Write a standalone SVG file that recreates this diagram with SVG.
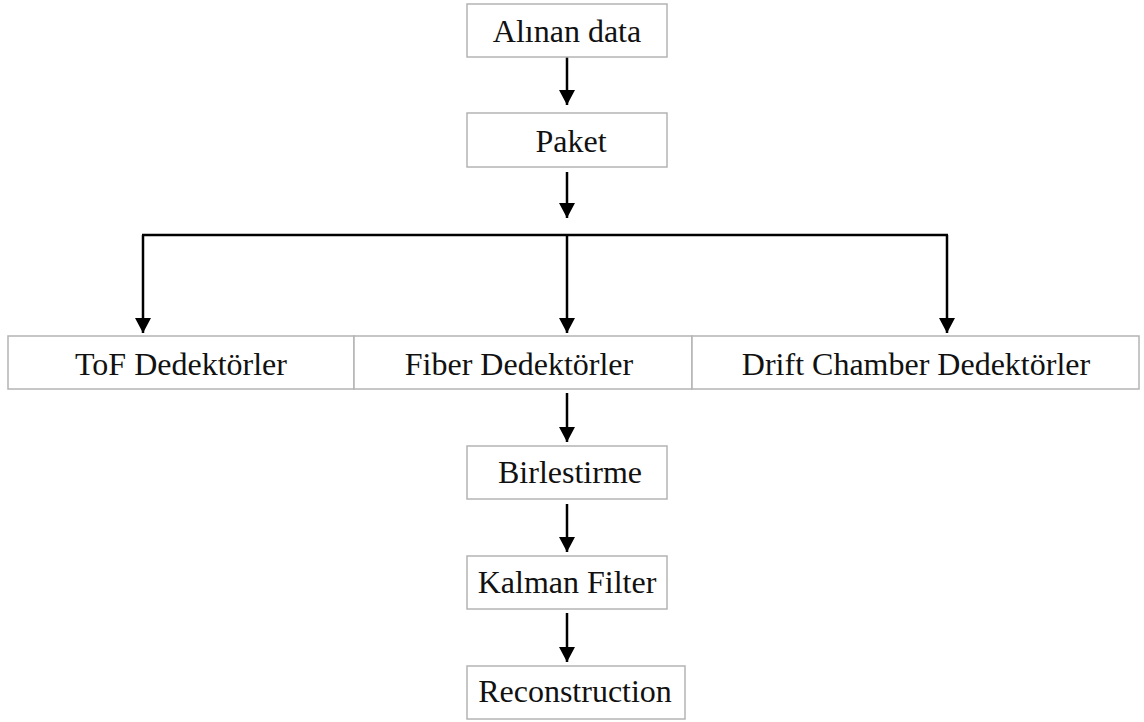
<svg xmlns="http://www.w3.org/2000/svg" width="1144" height="722" viewBox="0 0 1144 722">
<style>
.box{fill:#fff;stroke:#b4b4b4;stroke-width:1.5}
.lbl{font-family:"Liberation Serif","Times New Roman",serif;font-size:32px;fill:#111;text-anchor:middle}
.ln{fill:none;stroke:#000;stroke-width:2.5}
</style>
<defs>
<marker id="ah" markerUnits="userSpaceOnUse" markerWidth="17" markerHeight="17" viewBox="0 0 17 17" refX="15" refY="8.5" orient="auto">
<path d="M0,0.5 L15,8.5 L0,16.5 Z" fill="#000"/>
</marker>
</defs>
<rect width="1144" height="722" fill="#fff"/>
<g id="connectors">
<line class="ln" x1="567" y1="57" x2="567" y2="105" marker-end="url(#ah)"/>
<line class="ln" x1="567" y1="172" x2="567" y2="218" marker-end="url(#ah)"/>
<line class="ln" x1="142" y1="235" x2="948" y2="235"/>
<line class="ln" x1="143" y1="235" x2="143" y2="333" marker-end="url(#ah)"/>
<line class="ln" x1="567" y1="235" x2="567" y2="333" marker-end="url(#ah)"/>
<line class="ln" x1="947" y1="235" x2="947" y2="333" marker-end="url(#ah)"/>
<line class="ln" x1="567" y1="393" x2="567" y2="442" marker-end="url(#ah)"/>
<line class="ln" x1="567" y1="504" x2="567" y2="552" marker-end="url(#ah)"/>
<line class="ln" x1="567" y1="613" x2="567" y2="662" marker-end="url(#ah)"/>
</g>
<g id="alinan"><rect class="box" x="467" y="4" width="200" height="53"/><text class="lbl" x="567" y="42">Alınan data</text></g>
<g id="paket"><rect class="box" x="467" y="113" width="200" height="54"/><text class="lbl" x="571" y="152">Paket</text></g>
<g id="tof"><rect class="box" x="8" y="336" width="346" height="53"/><text class="lbl" x="181" y="375">ToF Dedektörler</text></g>
<g id="fiber"><rect class="box" x="354" y="336" width="338" height="53"/><text class="lbl" x="519" y="375">Fiber Dedektörler</text></g>
<g id="drift"><rect class="box" x="692" y="336" width="447" height="53"/><text class="lbl" x="916" y="375">Drift Chamber Dedektörler</text></g>
<g id="birlestirme"><rect class="box" x="467" y="446" width="200" height="53"/><text class="lbl" x="570" y="483">Birlestirme</text></g>
<g id="kalman"><rect class="box" x="467" y="556" width="200" height="53"/><text class="lbl" x="567" y="593">Kalman Filter</text></g>
<g id="reconstruction"><rect class="box" x="467" y="666" width="218" height="53"/><text class="lbl" x="575" y="702">Reconstruction</text></g>
</svg>
